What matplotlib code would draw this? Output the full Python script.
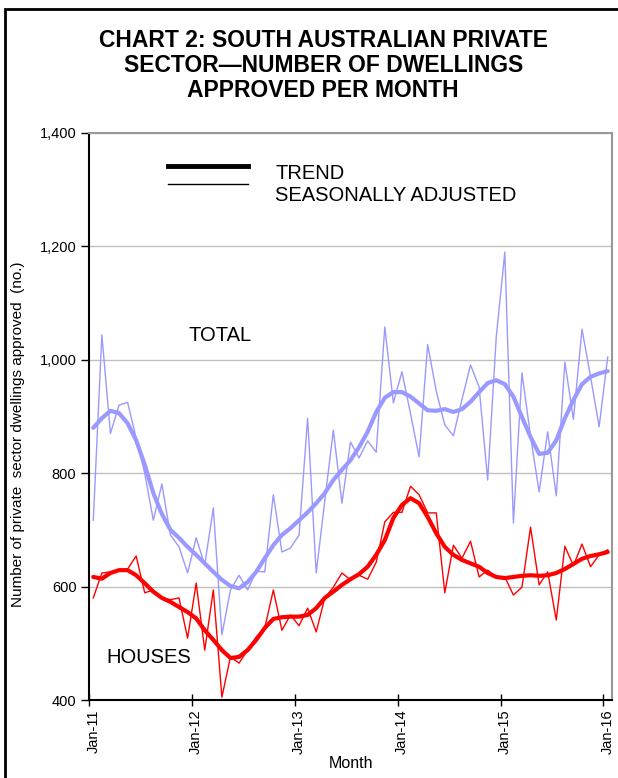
import matplotlib
matplotlib.use("Agg")
import matplotlib.pyplot as plt
from matplotlib.patches import Rectangle
import numpy as np

plt.rcParams['font.family'] = ['Liberation Sans', 'DejaVu Sans']

# monthly values, Jan-11 .. Jan-16
total_sa = [717, 1044, 870, 920, 925, 862, 800, 717, 781, 691,
            670, 624, 686, 638, 739, 515, 594, 620, 594, 627,
            626, 762, 661, 668, 691, 897, 624, 751, 876, 747,
            855, 827, 857, 837, 1058, 924, 979, 905, 829, 1027,
            945, 885, 866, 930, 991, 952, 788, 1040, 1190, 712,
            977, 865, 767, 873, 760, 996, 895, 1054, 970, 882,
            1005]
total_trend = [880, 897, 910, 906, 888, 858, 815, 765, 728, 700,
               686, 670, 656, 641, 626, 612, 601, 597, 608, 626,
               650, 673, 691, 703, 717, 731, 747, 765, 788, 806,
               823, 846, 873, 908, 933, 943, 943, 935, 923, 911,
               910, 913, 908, 913, 926, 943, 959, 964, 957, 935,
               899, 864, 834, 836, 858, 897, 929, 957, 970, 976,
               980]
houses_sa = [580, 624, 626, 629, 631, 654, 589, 594, 580, 577,
             580, 509, 606, 488, 594, 405, 476, 465, 488, 511,
             527, 594, 523, 550, 531, 562, 520, 580, 599, 624,
             612, 620, 613, 643, 714, 731, 731, 777, 762, 730,
             730, 589, 673, 650, 680, 617, 629, 617, 617, 585,
             599, 705, 603, 626, 541, 671, 637, 675, 635, 656,
             665]
houses_trend = [617, 614, 624, 629, 629, 620, 606, 591, 580, 573,
                564, 555, 544, 523, 506, 488, 474, 476, 488, 506,
                527, 543, 546, 547, 547, 550, 562, 580, 591, 603,
                613, 622, 635, 656, 682, 721, 744, 756, 747, 723,
                694, 670, 656, 647, 641, 635, 624, 617, 615, 617,
                619, 620, 619, 620, 624, 631, 640, 649, 654, 657,
                661]
tick_labels = ['Jan-11', 'Jan-12', 'Jan-13', 'Jan-14', 'Jan-15', 'Jan-16']

blue = '#9999FF'
red = '#FF0000'

fig = plt.figure(figsize=(6.18, 7.78), dpi=100)
ax = fig.add_axes([89/618, 1-700/778, (612-89)/618, (700-133)/778])

x = np.arange(len(total_sa))
ax.plot(x, total_sa, color=blue, lw=1.0)
ax.plot(x, total_trend, color=blue, lw=3.0, solid_capstyle='round')
ax.plot(x, houses_sa, color=red, lw=1.0)
ax.plot(x, houses_trend, color=red, lw=3.0, solid_capstyle='round')

ax.set_xlim(-0.5, len(total_sa) - 0.5)
ax.set_ylim(400, 1400)
ax.set_yticks(range(400, 1401, 200))
ax.set_yticklabels(['{:,}'.format(v) for v in range(400, 1401, 200)], fontsize=10.5)
ax.yaxis.grid(True, color='#C0C0C0', lw=1)
ax.set_axisbelow(True)

# category axis: ticks between months, labels on the month
label_pos = [12 * k for k in range(len(tick_labels))]
ax.set_xticks([p - 0.5 for p in label_pos])
ax.set_xticklabels([])
ax.set_xticks(label_pos, minor=True)
ax.set_xticklabels(tick_labels, minor=True, rotation=90, fontsize=10.5)
ax.tick_params(axis='x', which='major', direction='inout', length=9, width=1)
ax.tick_params(axis='x', which='minor', length=0, pad=7)
ax.tick_params(axis='y', direction='out', length=6, width=1, pad=3)

for s in ['top', 'right']:
    ax.spines[s].set_color('#999999')
    ax.spines[s].set_linewidth(1.5)
for s in ['left', 'bottom']:
    ax.spines[s].set_color('black')
    ax.spines[s].set_linewidth(1.5)

ax.set_xlabel('Month', fontsize=11.5, labelpad=1)
ax.set_ylabel('Number of private  sector dwellings approved  (no.)', fontsize=11)
ax.yaxis.set_label_coords(-0.122, 0.469)

# legend drawn by hand to keep the original offsets between keys and labels
ax.plot([0.151, 0.304], [0.942, 0.942], transform=ax.transAxes, color='black', lw=3.5)
ax.plot([0.151, 0.304], [0.910, 0.910], transform=ax.transAxes, color='black', lw=1)
ax.text(0.356, 0.929, 'TREND', transform=ax.transAxes, fontsize=14.5, va='center')
ax.text(0.356, 0.889, 'SEASONALLY ADJUSTED', transform=ax.transAxes, fontsize=14.5, va='center')

ax.text(0.19, 0.643, 'TOTAL', transform=ax.transAxes, fontsize=14.5, va='center')
ax.text(0.033, 0.075, 'HOUSES', transform=ax.transAxes, fontsize=14.5, va='center')

fig.text(0.523, 0.916, 'CHART 2: SOUTH AUSTRALIAN PRIVATE\nSECTOR\u2014NUMBER OF DWELLINGS\nAPPROVED PER MONTH',
         ha='center', va='center', fontsize=16.5, fontweight='bold', linespacing=1.1)

fig.patches.append(Rectangle((5/618, -0.1), 1.2, 1.1 - 9/778, transform=fig.transFigure,
                             fill=False, edgecolor='black', lw=2))

fig.savefig('out.png', dpi=100)
